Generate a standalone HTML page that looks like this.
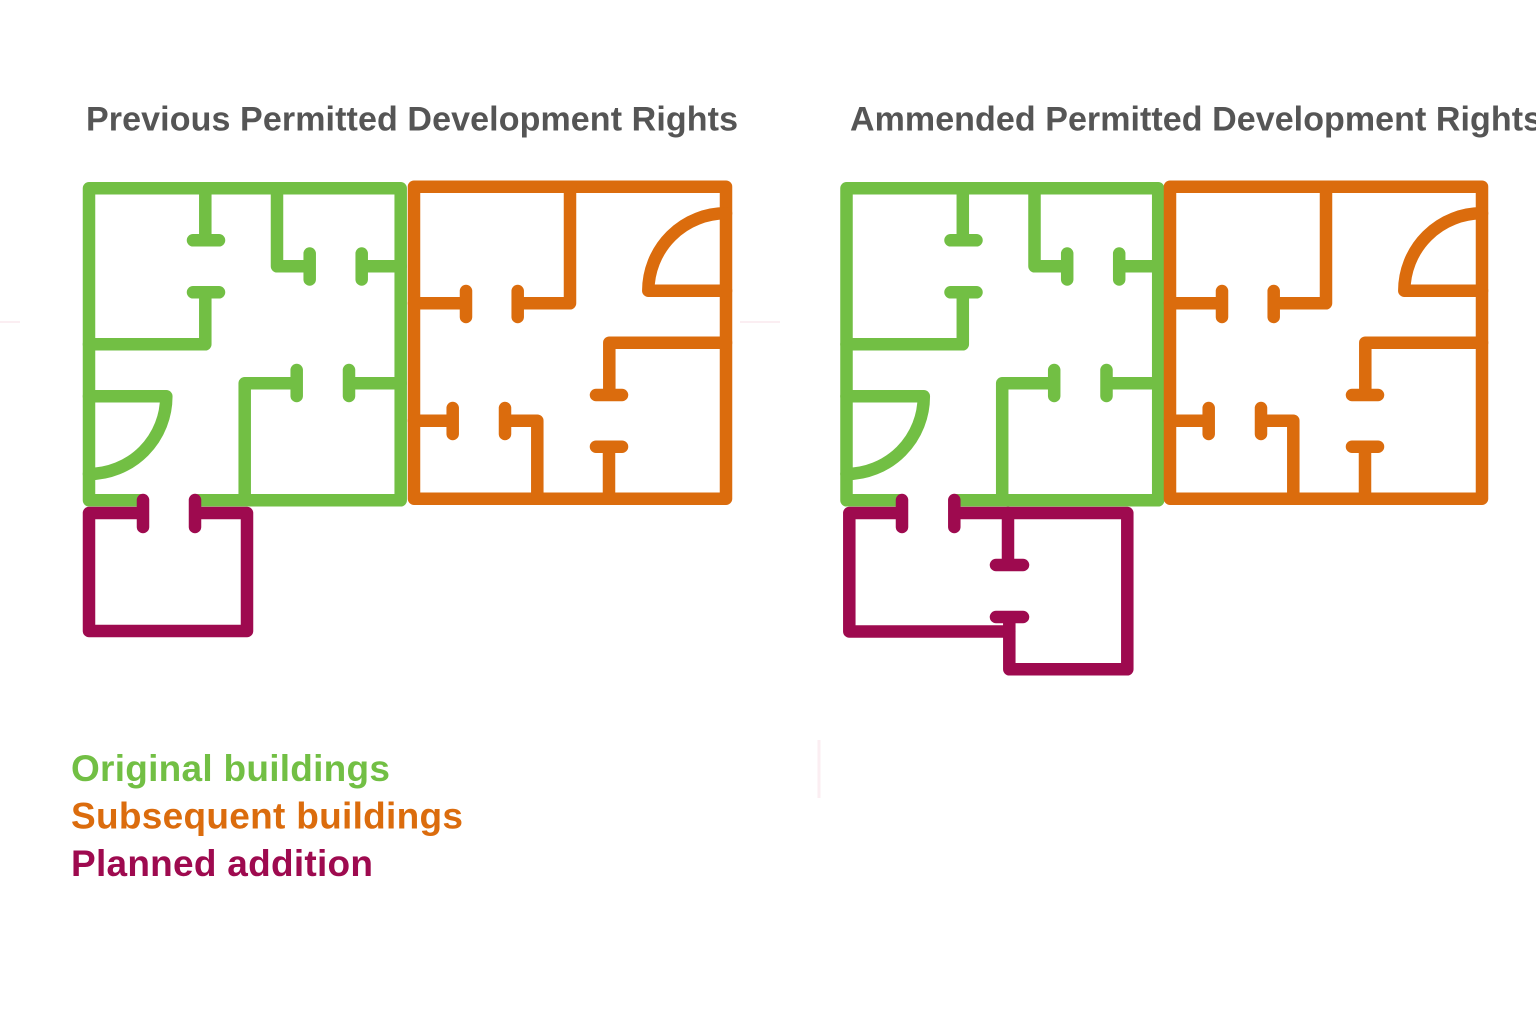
<!DOCTYPE html>
<html><head><meta charset="utf-8"><style>
html,body{margin:0;padding:0;background:#fff;width:1536px;height:1028px;overflow:hidden}
svg{display:block}
text{font-family:"Liberation Sans",Arial,sans-serif;font-weight:bold}
.g,.o,.p{fill:none;stroke-width:12.5;stroke-linecap:round;stroke-linejoin:round}
.g{stroke:#72bf44}.o{stroke:#db6c0d}.p{stroke:#9e0a4f}
</style></head><body>
<svg width="1536" height="1028" viewBox="0 0 1536 1028" xmlns="http://www.w3.org/2000/svg">
<rect width="1536" height="1028" fill="#fff"/>
<g stroke="#fbeef2" stroke-width="2" fill="none">
<path d="M0 322H20M740 322H780"/><path d="M819 740V798" stroke-width="3"/>
</g>
<text x="86" y="130.5" font-size="34" fill="#555555" textLength="652" lengthAdjust="spacing">Previous Permitted Development Rights</text>
<text x="850" y="130.5" font-size="34" fill="#555555" textLength="692" lengthAdjust="spacing">Ammended Permitted Development Rights</text>
<text x="71" y="781" font-size="37" fill="#72bf44" textLength="319" lengthAdjust="spacing">Original buildings</text>
<text x="71" y="828.5" font-size="37" fill="#db6c0d" textLength="392" lengthAdjust="spacing">Subsequent buildings</text>
<text x="71" y="876" font-size="37" fill="#9e0a4f" textLength="302" lengthAdjust="spacing">Planned addition</text>

<!-- Left plan -->
<path class="g" d="M142 500.3H89V188.3H400.7V500.3H198"/>
<path class="g" d="M205.3 188.3V240.3M193 240.3H219"/>
<path class="g" d="M193 292.3H219M205.3 292.3V344.3H89"/>
<path class="g" d="M277 188.3V266.3H309.7M309.7 253.5V279.5"/>
<path class="g" d="M400.7 266.3H361.7M361.7 253.5V279.5"/>
<path class="g" d="M244.7 500.3V383.3H296.7M296.7 370V396"/>
<path class="g" d="M400.7 383.3H349M349 370V396"/>
<path class="g" d="M89 396.3H166.3A77.5 77.5 0 0 1 89 474"/>

<path class="o" d="M414 186.7H726V498.7H414Z"/>
<path class="o" d="M570 186.7V303.3H517.7M517.7 291V317"/>
<path class="o" d="M414 303.3H466M466 291V317"/>
<path class="o" d="M726 290.7H648.3A77.5 77.5 0 0 1 726 213.3"/>
<path class="o" d="M726 342.7H609.3V395M596 395H622"/>
<path class="o" d="M609 498.7V446.7M596 446.7H622"/>
<path class="o" d="M414 420.7H452.7M452.7 408V434"/>
<path class="o" d="M537.3 498.7V420.7H505M505 408V434"/>

<path class="p" d="M143 513H89V631H247V513H195M143 500V527M195 500V527"/>

<!-- Right plan -->
<g transform="translate(757.5 0)">
<path class="g" d="M142 500.3H89V188.3H400.7V500.3H198"/>
<path class="g" d="M205.3 188.3V240.3M193 240.3H219"/>
<path class="g" d="M193 292.3H219M205.3 292.3V344.3H89"/>
<path class="g" d="M277 188.3V266.3H309.7M309.7 253.5V279.5"/>
<path class="g" d="M400.7 266.3H361.7M361.7 253.5V279.5"/>
<path class="g" d="M244.7 500.3V383.3H296.7M296.7 370V396"/>
<path class="g" d="M400.7 383.3H349M349 370V396"/>
<path class="g" d="M89 396.3H166.3A77.5 77.5 0 0 1 89 474"/>
</g>
<g transform="translate(756 0)">
<path class="o" d="M414 186.7H726V498.7H414Z"/>
<path class="o" d="M570 186.7V303.3H517.7M517.7 291V317"/>
<path class="o" d="M414 303.3H466M466 291V317"/>
<path class="o" d="M726 290.7H648.3A77.5 77.5 0 0 1 726 213.3"/>
<path class="o" d="M726 342.7H609.3V395M596 395H622"/>
<path class="o" d="M609 498.7V446.7M596 446.7H622"/>
<path class="o" d="M414 420.7H452.7M452.7 408V434"/>
<path class="o" d="M537.3 498.7V420.7H505M505 408V434"/>
</g>
<path class="p" d="M902 513H849.3V631.5H1009.3M902 500V527"/>
<path class="p" d="M954.3 500V527M954.3 513H1127.3V669.3H1009.3V617M996 617H1023"/>
<path class="p" d="M1008 513V565M996 565H1023"/>
</svg>
</body></html>
